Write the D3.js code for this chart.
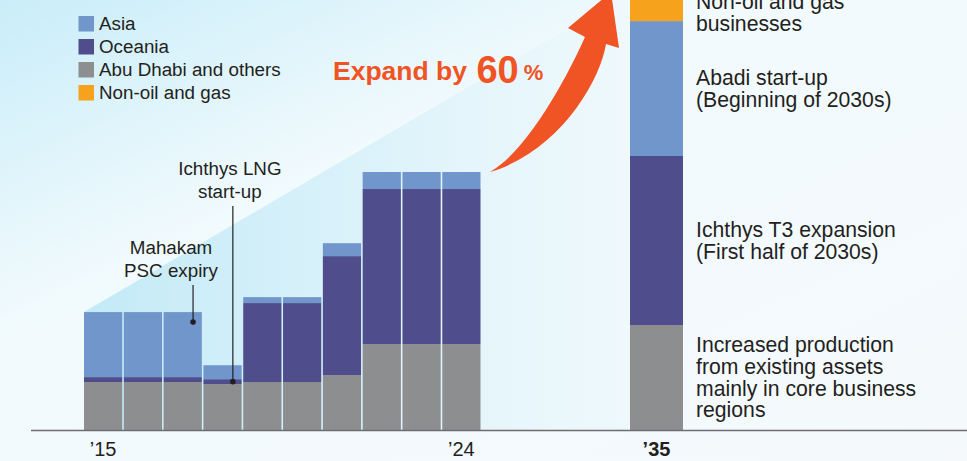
<!DOCTYPE html>
<meta charset="utf-8">
<script src="https://d3js.org/d3.v7.min.js"></script>
<style type="text/css">
    body {
        margin: 0;
        padding: 0;
        font-family: "Liberation Sans", Arial, sans-serif;
    }
    svg { display: block; }
    .lbl { fill: #231f20; }
</style>
<body>
</body>
<script>

// production index, 2024 = 100
var years    = ["2015", "2016", "2017", "2018", "2019", "2020", "2021", "2022", "2023", "2024"];
var asia     = [25.2, 25.2, 25.2, 5.4, 2.3, 2.3, 5.0, 6.6, 6.6, 6.6];
var oceania  = [1.9, 1.9, 1.9, 1.9, 30.6, 30.6, 46.1, 60.1, 60.1, 60.1];
var abuDhabi = [18.6, 18.6, 18.6, 17.8, 18.6, 18.6, 21.3, 33.3, 33.3, 33.3];

var target       = "2035";
var targetAsia   = 52.3;
var targetOcean  = 65.5;
var targetAbu    = 40.7;
var targetNonOil = 11.2;

var keys = ["abuDhabi", "oceania", "asia", "nonOil"];
var legendNames = ["Asia", "Oceania", "Abu Dhabi and others", "Non-oil and gas"];
var legendKeys  = ["asia", "oceania", "abuDhabi", "nonOil"];
var colors = {asia: "#7096cb", oceania: "#4f4d8b", abuDhabi: "#8d8e90", nonOil: "#f7a21c"};

var tickText = {"2015": "\u201915", "2024": "\u201924", "2035": "\u201935"};
var targetLabels = [
    ["Increased production", "from existing assets", "mainly in core business", "regions"],
    ["Ichthys T3 expansion", "(First half of 2030s)"],
    ["Abadi start-up", "(Beginning of 2030s)"],
    ["Non-oil and gas", "businesses"]
];

var width = 967, height = 461;

var rows = years.map(function (yr, i) {
    return {year: yr, asia: asia[i], oceania: oceania[i], abuDhabi: abuDhabi[i], nonOil: 0};
});
var targetRow = {year: target, asia: targetAsia, oceania: targetOcean, abuDhabi: targetAbu, nonOil: targetNonOil};
var allRows = rows.concat([targetRow]);

var x = d3.scaleBand().domain(years).range([84, 480.5]).paddingInner(0.04).paddingOuter(0);
var xt = d3.scaleBand().domain([target]).range([630, 683]);
var y = d3.scaleLinear().domain([0, 100]).range([430, 172]);

function xPos(yr) { return yr === target ? xt(yr) : x(yr); }
function bw(yr) { return yr === target ? xt.bandwidth() : x.bandwidth(); }
function total(r) { return r.asia + r.oceania + r.abuDhabi + r.nonOil; }

var svg = d3.select("body")
    .append("svg")
    .attr("width", width)
    .attr("height", height);

var defs = svg.append("defs");
var bg = defs.append("linearGradient").attr("id", "bg")
    .attr("x1", 0).attr("y1", 0).attr("x2", 1).attr("y2", 1);
bg.append("stop").attr("offset", 0).attr("stop-color", "#c9edf9");
bg.append("stop").attr("offset", 0.35).attr("stop-color", "#f1fafd");
bg.append("stop").attr("offset", 1).attr("stop-color", "#f5f9fc");

var tri = defs.append("linearGradient").attr("id", "tri")
    .attr("gradientUnits", "userSpaceOnUse")
    .attr("x1", 84).attr("y1", 0).attr("x2", 630).attr("y2", 0);
tri.append("stop").attr("offset", 0).attr("stop-color", "#c3eaf7");
tri.append("stop").attr("offset", 0.7).attr("stop-color", "#e4f5fb");
tri.append("stop").attr("offset", 1).attr("stop-color", "#eff9fc");

svg.append("rect")
    .attr("width", width).attr("height", height)
    .attr("fill", "url(#bg)");

// growth wedge behind bars
var first = rows[0];
svg.append("path")
    .attr("d", d3.line()([
        [xPos(first.year), y(total(first))],
        [xPos(target), y(total(targetRow))],
        [xPos(target), y(0)],
        [xPos(first.year), y(0)]
    ]))
    .attr("fill", "url(#tri)");

// bars
var series = d3.stack().keys(keys)(allRows);

svg.append("g").selectAll("g")
    .data(series)
    .join("g")
    .attr("fill", function (s) { return colors[s.key]; })
    .selectAll("rect")
    .data(function (s) { return s; })
    .join("rect")
    .attr("x", function (d) { return xPos(d.data.year); })
    .attr("width", function (d) { return bw(d.data.year); })
    .attr("y", function (d) { return y(d[1]); })
    .attr("height", function (d) { return y(d[0]) - y(d[1]); });

// baseline
svg.append("line")
    .attr("x1", 31).attr("x2", width)
    .attr("y1", y(0) + 0.5).attr("y2", y(0) + 0.5)
    .attr("stroke", "#6d6e70")
    .attr("stroke-width", 1.6);

// x tick labels
var xAxis = d3.axisBottom(x)
    .tickValues(["2015", "2024"])
    .tickSize(0)
    .tickPadding(12)
    .tickFormat(function (d) { return tickText[d]; });

var gx = svg.append("g")
    .attr("transform", "translate(0," + y(0) + ")")
    .call(xAxis);
gx.select(".domain").remove();

var gx2 = svg.append("g")
    .attr("transform", "translate(0," + y(0) + ")")
    .call(d3.axisBottom(xt).tickSize(0).tickPadding(12)
        .tickFormat(function (d) { return tickText[d]; }));
gx2.select(".domain").remove();
gx2.selectAll("text").attr("font-weight", "bold");

svg.selectAll(".tick text")
    .attr("font-family", "Liberation Sans, Arial, sans-serif")
    .attr("font-size", 20)
    .attr("fill", "#231f20");

// legend
var legend = svg.append("g").attr("transform", "translate(78.5,16)");
legendKeys.forEach(function (k, i) {
    var row = legend.append("g").attr("transform", "translate(0," + (i * 23) + ")");
    row.append("rect").attr("width", 15.5).attr("height", 15.5).attr("fill", colors[k]);
    row.append("text").attr("class", "lbl")
        .attr("x", 20.5).attr("y", 14)
        .attr("font-size", 18.8)
        .text(legendNames[i]);
});

// annotations
function note(yr, yDot, lines, lineTop, dx) {
    var cx = xPos(yr) + bw(yr) * 0.77;
    svg.append("line")
        .attr("x1", cx).attr("x2", cx)
        .attr("y1", lineTop).attr("y2", yDot)
        .attr("stroke", "#231f20").attr("stroke-width", 1.2);
    svg.append("circle").attr("cx", cx).attr("cy", yDot).attr("r", 2.8).attr("fill", "#231f20");
    lines.forEach(function (t, i) {
        svg.append("text").attr("class", "lbl")
            .attr("x", cx + dx)
            .attr("y", lineTop - 31 + i * 23)
            .attr("text-anchor", "middle")
            .attr("font-size", 18.8)
            .text(t);
    });
}
var r17 = rows[2], r18 = rows[3];
note(r17.year, y(total(r17)) + 10, ["Mahakam", "PSC expiry"], y(total(r17)) - 27, -22);
note(r18.year, y(r18.abuDhabi + r18.oceania / 2), ["Ichthys LNG", "start-up"], y(total(r17)) - 106, -3);

// labels beside the 2035 bar
var tSeries = series.map(function (s) { return s[s.length - 1]; });
tSeries.forEach(function (d, i) {
    var top = Math.max(y(d[1]), 0);
    var mid = (y(d[0]) + top) / 2 + (i === tSeries.length - 1 ? 2 : 0);
    var lines = targetLabels[i];
    lines.forEach(function (t, j) {
        svg.append("text").attr("class", "lbl")
            .attr("x", xt(target) + xt.bandwidth() + 13)
            .attr("y", mid + (j - (lines.length - 1) / 2) * 21.7)
            .attr("dy", "0.35em")
            .attr("font-size", 21.2)
            .text(t);
    });
});

// growth arrow
var ax = x("2024") + x.bandwidth() + 9.5;
var ay = y(total(rows[rows.length - 1]));
var arrow = d3.path();
arrow.moveTo(ax, ay);
arrow.bezierCurveTo(ax + 42, ay - 24, ax + 84, ay - 110, ax + 95, ay - 135);
arrow.lineTo(ax + 78, ay - 144);
arrow.lineTo(ax + 121, ay - 180);
arrow.lineTo(ax + 129, ay - 124);
arrow.lineTo(ax + 116, ay - 128);
arrow.bezierCurveTo(ax + 110, ay - 90, ax + 68, ay - 20, ax, ay);
arrow.closePath();
svg.append("path").attr("d", arrow.toString()).attr("fill", "#f05324");

var expand = svg.append("text")
    .attr("x", 333).attr("y", 80)
    .attr("fill", "#f05324")
    .attr("font-weight", "bold");
expand.append("tspan").attr("font-size", 26.5).text("Expand by ");
expand.append("tspan").attr("font-size", 38).attr("dy", 3).attr("dx", 2).text("60");
expand.append("tspan").attr("font-size", 22).attr("dy", -3).attr("dx", 5).text("%");

</script>
